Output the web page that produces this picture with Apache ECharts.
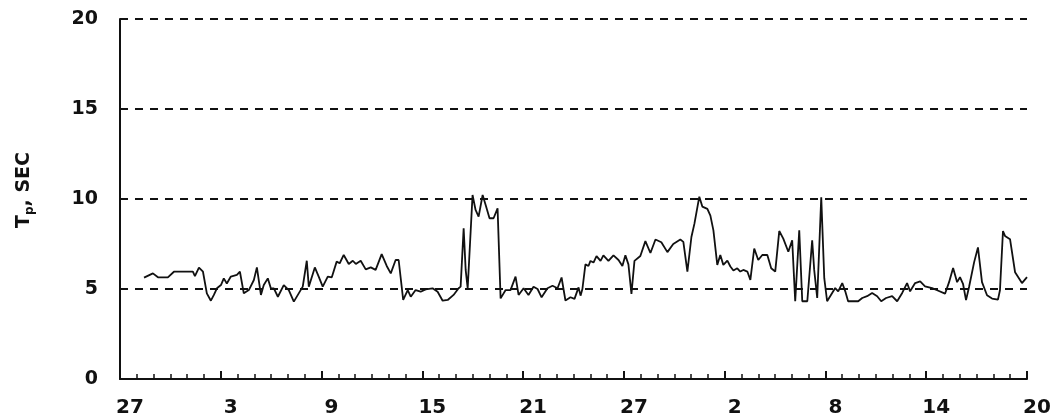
<!DOCTYPE html>
<html>
<head>
<meta charset="utf-8">
<script src="https://cdn.jsdelivr.net/npm/echarts@6/dist/echarts.min.js"></script>
<style>
html,body{margin:0;padding:0;background:#fff;}
#c{width:1062px;height:420px;}
</style>
</head>
<body>
<div id="c"></div>
<script>
// x tick labels (day of month), one every 6 days
const xTickLabels = ['27','3','9','15','21','27','2','8','14','20'];
// time in days since the first "27"
const days = [
1.43,1.96,2.26,2.85,3.21,4.34,4.46,4.70,4.94,5.17,5.41,5.59,5.77,6.01,6.18,6.36,6.60,6.96,7.14,7.37,7.67,7.97,8.15,8.39,8.56,8.80,
8.98,9.16,9.40,9.75,10.05,10.35,10.88,11.12,11.24,11.60,11.83,12.07,12.37,12.61,12.90,13.08,13.32,13.62,13.86,14.04,14.33,14.63,14.93,15.22,15.58,15.88,16.12,16.41,16.59,
16.86,17.13,17.31,17.60,17.90,18.20,18.61,18.91,19.21,19.51,19.86,20.16,20.28,20.46,20.58,20.70,20.99,21.17,21.35,21.59,21.77,22.00,22.24,22.48,22.66,22.96,23.25,23.55,23.73,24.03,24.32,24.62,24.86,
25.10,25.45,25.75,26.05,26.29,26.52,26.82,27.06,27.30,27.42,27.53,27.71,27.89,28.01,28.19,28.37,28.61,28.78,29.08,29.38,29.68,29.91,30.09,30.27,30.45,30.63,30.98,31.28,31.58,31.88,
32.23,32.59,32.94,33.36,33.54,33.78,34.02,34.20,34.49,34.67,34.97,35.15,35.33,35.56,35.74,35.92,36.16,36.34,36.52,36.75,36.93,37.11,37.35,37.53,37.76,38.00,38.24,38.54,38.77,39.01,39.25,39.49,39.79,40.02,
40.20,40.44,40.62,40.92,41.21,41.33,41.51,41.75,41.93,42.10,42.40,42.58,42.76,43.00,43.18,43.35,43.95,44.19,44.48,44.78,45.08,45.32,45.61,45.97,46.27,46.57,46.86,47.04,47.34,47.64,47.93,48.35,
48.65,49.12,49.36,49.60,49.84,50.01,50.19,50.37,50.55,50.85,51.08,51.32,51.62,51.92,52.27,52.39,52.57,52.69,52.99,53.29,53.70,54.00
];
// peak period Tp, seconds
const tp = [
5.63,5.87,5.65,5.65,5.96,5.96,5.72,6.19,5.96,4.76,4.35,4.67,5.04,5.22,5.59,5.31,5.69,5.78,5.96,4.76,4.94,5.50,6.20,4.67,5.22,5.59,
5.04,5.04,4.57,5.22,4.94,4.30,5.13,6.57,5.13,6.20,5.69,5.13,5.69,5.65,6.52,6.43,6.89,6.39,6.57,6.39,6.57,6.09,6.20,6.06,6.94,6.28,5.87,6.61,6.61,
4.40,4.94,4.57,4.94,4.85,4.98,5.04,4.85,4.35,4.39,4.67,5.04,5.13,8.37,6.06,5.04,10.22,9.39,9.02,10.22,9.67,8.93,8.93,9.48,4.48,4.94,4.94,5.69,4.67,5.04,4.67,5.13,5.00,
4.54,5.04,5.18,5.04,5.64,4.36,4.54,4.45,5.09,4.63,5.00,6.37,6.28,6.56,6.47,6.83,6.56,6.87,6.56,6.87,6.61,6.28,6.87,6.37,4.73,6.56,6.83,7.66,7.00,7.75,
7.60,7.05,7.50,7.75,7.62,5.97,7.89,8.63,10.13,9.58,9.45,9.08,8.26,6.34,6.89,6.34,6.58,6.25,6.03,6.15,5.97,6.06,5.97,5.51,7.25,6.61,6.89,6.89,6.15,5.97,8.22,7.80,7.07,7.71,
4.32,8.26,4.32,4.32,7.71,6.06,4.50,10.10,5.60,4.32,4.78,5.05,4.87,5.33,4.87,4.32,4.32,4.50,4.60,4.78,4.60,4.32,4.50,4.60,4.32,4.78,5.33,4.87,5.33,5.42,5.15,5.05,
4.93,4.74,5.38,6.17,5.38,5.66,5.29,4.38,5.11,6.48,7.31,5.38,4.65,4.47,4.41,4.93,8.22,7.95,7.77,5.93,5.33,5.66
];
const yTicks = [0, 5, 10, 15, 20];

const chart = echarts.init(document.getElementById('c'), null, {renderer: 'canvas'});
const font = 'DejaVu Sans';
const ink = '#111';
chart.setOption({
  animation: false,
  backgroundColor: '#fff',
  grid: {left: 120, right: 35, top: 19, bottom: 41, containLabel: false},
  xAxis: {
    type: 'value', min: 0, max: 54, interval: 6,
    axisLine: {show: true, lineStyle: {color: ink, width: 2}},
    axisTick: {show: true, inside: true, length: 8, lineStyle: {color: ink, width: 2}},
    minorTick: {show: true, splitNumber: 6, length: 5, lineStyle: {color: ink, width: 1.5}},
    splitLine: {show: false},
    axisLabel: {
      color: ink, fontFamily: font, fontWeight: 'bold', fontSize: 20, margin: 19,
      padding: [0, 0, 0, 20],
      formatter: function (v) { return xTickLabels[Math.round(v / 6)]; }
    }
  },
  yAxis: {
    type: 'value', min: yTicks[0], max: yTicks[yTicks.length - 1], interval: 5,
    axisLine: {show: true, lineStyle: {color: ink, width: 2}},
    axisTick: {show: false},
    splitLine: {show: true, lineStyle: {color: ink, width: 2, type: [8, 7]}},
    axisLabel: {color: ink, fontFamily: font, fontWeight: 'bold', fontSize: 19, margin: 22}
  },
  graphic: [{
    type: 'text', x: 24, y: 190, rotation: Math.PI / 2,
    style: {
      text: '{a|T}{b|p}{a|, SEC}',
      align: 'center', verticalAlign: 'middle',
      rich: {
        a: {fontFamily: font, fontWeight: 'bold', fontSize: 19, fill: ink, lineHeight: 24},
        b: {fontFamily: font, fontWeight: 'bold', fontSize: 12, fill: ink, padding: [12, 0, 0, 0], lineHeight: 24}
      }
    }
  }],
  series: [{
    type: 'line',
    data: days.map((d, i) => [d, tp[i]]),
    showSymbol: false,
    lineStyle: {color: ink, width: 1.8},
    z: 3
  }]
});
</script>
</body>
</html>
